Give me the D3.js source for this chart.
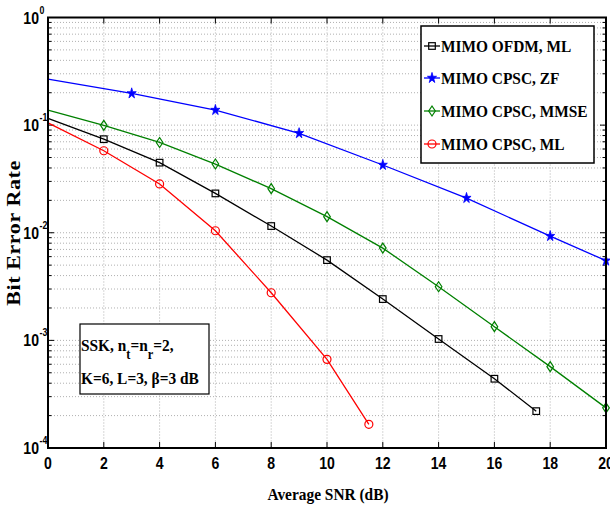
<!DOCTYPE html>
<html lang="en">
<head>
<meta charset="utf-8">
<title>BER vs SNR</title>
<script src="https://d3js.org/d3.v7.min.js"></script>
<style>
  body { margin: 0; background: #fff; }
  svg { display: block; }
</style>
</head>
<body>
<script>
// values
var xTicks = [0, 2, 4, 6, 8, 10, 12, 14, 16, 18, 20];
var yDecades = [1, 0.1, 0.01, 0.001, 0.0001];
var yExps = ["0", "-1", "-2", "-3", "-4"];

var ofdmX = [0, 2, 4, 6, 8, 10, 12, 14, 16, 17.5];
var ofdmY = [0.1156, 0.074, 0.0448, 0.0232, 0.01154, 0.00557, 0.00242, 0.00103, 0.00044, 0.00022];

var zfX = [0, 3, 6, 9, 12, 15, 18, 20];
var zfY = [0.267, 0.197, 0.138, 0.084, 0.0426, 0.021, 0.0093, 0.0055];

var mmseX = [0, 2, 4, 6, 8, 10, 12, 14, 16, 18, 20];
var mmseY = [0.138, 0.0996, 0.069, 0.0435, 0.0257, 0.0141, 0.0072, 0.00315, 0.00134, 0.00057, 0.000236];

var mlX = [0, 2, 4, 6, 8, 10, 11.5];
var mlY = [0.105, 0.0578, 0.0284, 0.01044, 0.00277, 0.000666, 0.000166];

var seriesNames = ["MIMO OFDM, ML", "MIMO CPSC, ZF", "MIMO CPSC, MMSE", "MIMO CPSC, ML"];
var seriesColors = ["#000000", "#0000ff", "#008000", "#ff0000"];
var seriesMarkers = ["square", "star", "diamond", "circle"];

var w = 610, h = 508;
var pL = 48, pR = 606, pT = 17.5, pB = 448;
var squeeze = 0.88; // the original figure is narrowed horizontally

var svg = d3.select("body").append("svg").attr("width", w).attr("height", h);

var x = d3.scaleLinear().domain([0, 20]).range([pL, pR]);
var y = d3.scaleLog().domain([1e-4, 1]).range([pB, pT]);

var serif = "'Liberation Serif', 'Times New Roman', serif";
var sans = "'Liberation Sans', Arial, sans-serif";

// text drawn at (tx,ty) and narrowed horizontally
function sqText(g, tx, ty, size, family) {
  return g.append("text")
    .attr("transform", "translate(" + tx + "," + ty + ") scale(" + squeeze + ",1)")
    .attr("font-family", family).attr("font-weight", "bold").attr("font-size", size);
}

// grid
var minorVals = [];
for (var e = -4; e < 0; e++) {
  for (var m = 1; m < 10; m++) minorVals.push(m * Math.pow(10, e));
}
var grid = svg.append("g").attr("stroke", "#b0b0b0").attr("stroke-width", 1).attr("stroke-dasharray", "1,2");
grid.selectAll(".gx").data(xTicks.slice(1, -1)).enter().append("line")
  .attr("x1", function(d) { return x(d); }).attr("x2", function(d) { return x(d); })
  .attr("y1", pT).attr("y2", pB);
grid.selectAll(".gy").data(minorVals.slice(1)).enter().append("line")
  .attr("x1", pL).attr("x2", pR)
  .attr("y1", function(d) { return y(d); }).attr("y2", function(d) { return y(d); });

// ticks (inward, both sides)
var ticks = svg.append("g").attr("stroke", "#000").attr("stroke-width", 1);
xTicks.forEach(function(t) {
  ticks.append("line").attr("x1", x(t)).attr("x2", x(t)).attr("y1", pB).attr("y2", pB - 6);
  ticks.append("line").attr("x1", x(t)).attr("x2", x(t)).attr("y1", pT).attr("y2", pT + 6);
});
minorVals.concat([1]).forEach(function(v) {
  var len = (Math.abs(Math.log10(v) - Math.round(Math.log10(v))) < 1e-9) ? 6 : 3.5;
  ticks.append("line").attr("x1", pL).attr("x2", pL + len).attr("y1", y(v)).attr("y2", y(v));
  ticks.append("line").attr("x1", pR).attr("x2", pR - len).attr("y1", y(v)).attr("y2", y(v));
});

// lines
var allX = [ofdmX, zfX, mmseX, mlX];
var allY = [ofdmY, zfY, mmseY, mlY];
var line = d3.line().x(function(d) { return x(d[0]); }).y(function(d) { return y(d[1]); });

function drawMarker(g, kind, cx, cy, color) {
  if (kind === "square") {
    g.append("rect").attr("x", cx - 3.3).attr("y", cy - 3.3).attr("width", 6.6).attr("height", 6.6)
      .attr("fill", "none").attr("stroke", color).attr("stroke-width", 1.2);
  } else if (kind === "circle") {
    g.append("circle").attr("cx", cx).attr("cy", cy).attr("r", 4)
      .attr("fill", "none").attr("stroke", color).attr("stroke-width", 1.2);
  } else if (kind === "diamond") {
    g.append("path").attr("d", "M" + cx + "," + (cy - 5) + "L" + (cx + 3.3) + "," + cy + "L" + cx + "," + (cy + 5) + "L" + (cx - 3.3) + "," + cy + "Z")
      .attr("fill", "none").attr("stroke", color).attr("stroke-width", 1.2);
  } else if (kind === "star") {
    g.append("path").attr("d", d3.symbol().type(d3.symbolStar).size(32)())
      .attr("transform", "translate(" + cx + "," + cy + ") scale(0.9,1.05)")
      .attr("fill", color).attr("stroke", color).attr("stroke-width", 0.8);
  }
}

var plot = svg.append("g");
for (var s = 0; s < 4; s++) {
  var pts = allX[s].map(function(v, i) { return [v, allY[s][i]]; });
  plot.append("path").datum(pts).attr("d", line)
    .attr("fill", "none").attr("stroke", seriesColors[s]).attr("stroke-width", 1.3);
  for (var i = 1; i < pts.length; i++) {
    drawMarker(plot, seriesMarkers[s], x(pts[i][0]), y(pts[i][1]), seriesColors[s]);
  }
}

// frame
svg.append("rect").attr("x", pL).attr("y", pT).attr("width", pR - pL).attr("height", pB - pT)
  .attr("fill", "none").attr("stroke", "#000").attr("stroke-width", 2);

// tick labels
xTicks.forEach(function(d) {
  sqText(svg, x(d), 469, 16, sans).attr("text-anchor", "middle").text(d);
});

yDecades.forEach(function(v, i) {
  sqText(svg, 39, y(v) + 6, 16, sans).attr("text-anchor", "end").text("10");
  sqText(svg, 39.5, y(v) - 4, 10, sans).text(yExps[i]);
});

// axis titles
sqText(svg, 328, 500, 17.5, serif).attr("text-anchor", "middle").text("Average SNR (dB)");
svg.append("text").attr("transform", "translate(20,233) rotate(-90) scale(1," + squeeze + ")")
  .attr("text-anchor", "middle")
  .attr("font-family", serif).attr("font-weight", "bold").attr("font-size", 22)
  .attr("letter-spacing", 0.6)
  .text("Bit Error Rate");

// legend
var leg = svg.append("g");
leg.append("rect").attr("x", 421).attr("y", 26).attr("width", 173).attr("height", 137)
  .attr("fill", "#fff").attr("stroke", "#000").attr("stroke-width", 1.5);
var legY = [46, 78, 111, 144];
for (var k = 0; k < 4; k++) {
  leg.append("line").attr("x1", 424).attr("x2", 440).attr("y1", legY[k]).attr("y2", legY[k])
    .attr("stroke", seriesColors[k]).attr("stroke-width", 1.3);
  drawMarker(leg, seriesMarkers[k], 432, legY[k], seriesColors[k]);
  sqText(leg, 441, legY[k] + 6, 17.5, serif).text(seriesNames[k]);
}

// annotation box
var ann = svg.append("g");
ann.append("rect").attr("x", 80).attr("y", 324).attr("width", 129).attr("height", 70)
  .attr("fill", "#fff").attr("stroke", "#000").attr("stroke-width", 1.2);
var t1 = sqText(ann, 81, 351, 17.5, serif);
t1.append("tspan").text("SSK, n");
t1.append("tspan").attr("dy", 8).attr("font-size", 14).text("t");
t1.append("tspan").attr("dy", -8).text("=n");
t1.append("tspan").attr("dy", 8).attr("font-size", 14).text("r");
t1.append("tspan").attr("dy", -8).text("=2,");
sqText(ann, 81, 384, 17.5, serif).text("K=6, L=3, \u03B2=3 dB");
</script>
</body>
</html>
